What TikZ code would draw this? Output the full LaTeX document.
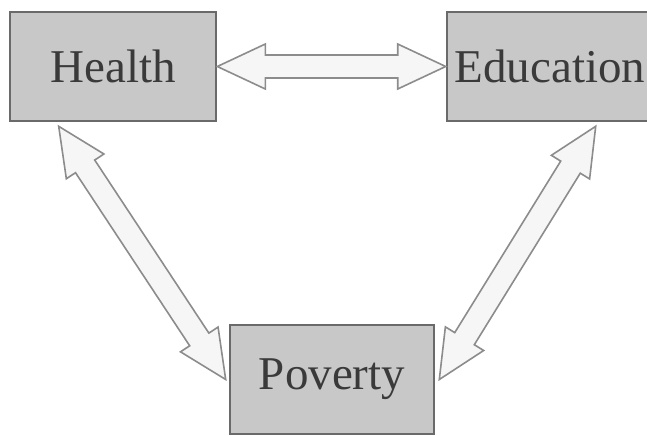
\documentclass[tikz,border=0pt]{standalone}
\usepackage{fontspec}
\setmainfont{Liberation Serif}
\usetikzlibrary{calc}
\definecolor{boxfill}{HTML}{C8C8C8}
\definecolor{boxline}{HTML}{6A6A6A}
\definecolor{arrowfill}{HTML}{F6F6F6}
\definecolor{arrowedge}{HTML}{8C8C8C}
\definecolor{labeltext}{HTML}{3A3A3A}
\def\headlen{24pt}
\def\headhalf{11.25pt}
\def\shafthalf{5.75pt}
% hollow two-headed arrow between two points
\newcommand{\twoway}[2]{%
  \draw[linkarrow] (#1)
    -- ($(#1)!\headlen!(#2)!\headhalf!90:(#2)$)
    -- ($(#1)!\headlen!(#2)!\shafthalf!90:(#2)$)
    -- ($(#2)!\headlen!(#1)!\shafthalf!-90:(#1)$)
    -- ($(#2)!\headlen!(#1)!\headhalf!-90:(#1)$)
    -- (#2)
    -- ($(#2)!\headlen!(#1)!\headhalf!90:(#1)$)
    -- ($(#2)!\headlen!(#1)!\shafthalf!90:(#1)$)
    -- ($(#1)!\headlen!(#2)!\shafthalf!-90:(#2)$)
    -- ($(#1)!\headlen!(#2)!\headhalf!-90:(#2)$)
    -- cycle;}
\tikzset{
  topic/.style={draw=boxline, fill=boxfill, line width=1.3pt, minimum width=103pt,
    minimum height=54.5pt, inner sep=0pt, text=labeltext, font=\fontsize{23.5}{26}\selectfont},
  linkarrow/.style={draw=arrowedge, fill=arrowfill, line width=0.8pt, line join=miter}
}
\begin{document}
\begin{tikzpicture}[x=0.5pt,y=-0.5pt]
\useasboundingbox (0,0) rectangle (647,435);
\node[topic] (health) at (113,66.5) {Health};
\node[topic] (education) at (550,66.5) {Education};
\node[topic, minimum width=102pt] (poverty) at (332,379.5) {Poverty};
\coordinate (hfoot) at ($(health.south west)+(50,4)$);
\coordinate (efoot) at ($(education.south west)+(150,4)$);
\coordinate (pleft) at ($(poverty.west)+(-3,0)$);
\coordinate (pright) at ($(poverty.east)+(4,0)$);
\twoway{health.east}{education.west}
\twoway{hfoot}{pleft}
\twoway{pright}{efoot}
\end{tikzpicture}
\end{document}
